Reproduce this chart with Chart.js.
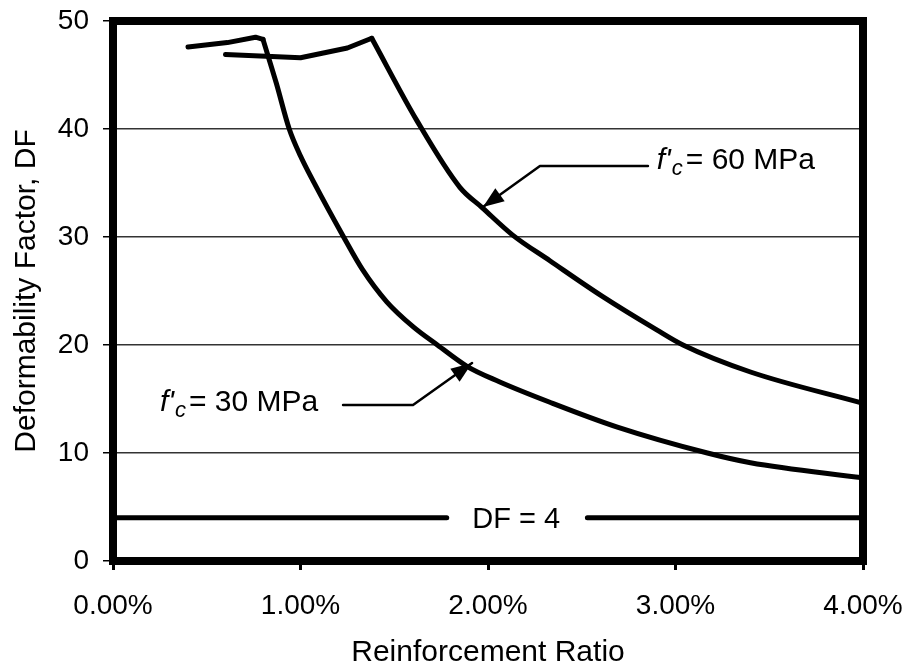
<!DOCTYPE html>
<html>
<head>
<meta charset="utf-8">
<script src="https://cdn.jsdelivr.net/npm/chart.js@4.4.1/dist/chart.umd.min.js"></script>
<style>
	body { margin: 0; background: #fff; }
	#wrap { width: 910px; height: 671px; position: relative; }
</style>
</head>
<body>
<div id="wrap"><canvas id="dfChart"></canvas></div>
<script>
// data (x = reinforcement ratio in %, y = DF)
const ratio30 = [0.40, 0.61, 0.76, 0.80, 0.87, 0.94, 1.00, 1.07, 1.23, 1.33, 1.46, 1.60, 1.73, 1.89, 2.06, 2.33, 2.69, 3.17, 3.40, 4.00]
const df30 = [47.6, 48.0, 48.5, 48.3, 44.3, 40.0, 37.5, 35.1, 30.0, 27.0, 24.0, 21.7, 20.0, 18.0, 16.6, 14.7, 12.4, 10.0, 9.1, 7.7]
const peak30 = 3 // index where the smooth falling branch starts

const ratio60 = [0.60, 1.00, 1.25, 1.38, 1.62, 1.85, 1.97, 2.13, 2.33, 2.61, 2.90, 3.04, 3.40, 4.00]
const df60 = [46.9, 46.6, 47.5, 48.4, 40.8, 34.6, 32.7, 30.2, 27.8, 24.5, 21.4, 20.0, 17.5, 14.6]
const peak60 = 3

// DF = 4 limit line, broken where its label sits
const limitX = [0, 1.78, 2.15, 2.53, 4.00]
const limitY = [4, 4, null, 4, 4]

// leader lines for the two labels (last point is the arrow tip)
const leader60X = [2.853, 2.277, 1.973]
const leader60Y = [36.57, 36.57, 32.78]
const leader30X = [1.227, 1.60, 1.915]
const leader30Y = [14.44, 14.44, 18.33]

const labels = [
	{ x: 2.90, y: 37.1, val: '60 MPa' },
	{ x: 0.25, y: 14.7, val: '30 MPa' },
]
const limitLabel = { x: 2.15, y: 4, text: 'DF = 4' }

const xTicks = [0, 1, 2, 3, 4]
const yTicks = [0, 10, 20, 30, 40, 50]

function pts(xs, ys) {
	return xs.map((x, i) => ({ x: x, y: ys[i] }))
}

const FONT = '"Liberation Sans", Arial, sans-serif'

const framePlugin = {
	id: 'frame',
	afterDatasetsDraw(chart) {
		const { ctx, chartArea: a, scales } = chart
		ctx.save()
		ctx.strokeStyle = '#000'
		ctx.lineWidth = 8
		ctx.strokeRect(a.left, a.top, a.right - a.left, a.bottom - a.top)

		// arrow heads
		const heads = [[leader60X, leader60Y], [leader30X, leader30Y]]
		heads.forEach(([xs, ys]) => {
			const n = xs.length
			const x1 = scales.x.getPixelForValue(xs[n - 2]), y1 = scales.y.getPixelForValue(ys[n - 2])
			const x2 = scales.x.getPixelForValue(xs[n - 1]), y2 = scales.y.getPixelForValue(ys[n - 1])
			const ang = Math.atan2(y2 - y1, x2 - x1)
			const len = 21, w = 8
			ctx.beginPath()
			ctx.moveTo(x2, y2)
			ctx.lineTo(x2 - len * Math.cos(ang) + w * Math.sin(ang), y2 - len * Math.sin(ang) - w * Math.cos(ang))
			ctx.lineTo(x2 - len * Math.cos(ang) - w * Math.sin(ang), y2 - len * Math.sin(ang) + w * Math.cos(ang))
			ctx.closePath()
			ctx.fillStyle = '#000'
			ctx.fill()
		})

		// f'c labels
		ctx.fillStyle = '#000'
		ctx.textBaseline = 'middle'
		ctx.textAlign = 'left'
		labels.forEach(l => {
			let px = scales.x.getPixelForValue(l.x)
			const py = scales.y.getPixelForValue(l.y)
			ctx.font = 'italic 30px ' + FONT
			ctx.fillText("f'", px, py)
			px += ctx.measureText("f'").width + 1
			ctx.font = 'italic 22px ' + FONT
			ctx.fillText('c', px, py + 9)
			px += ctx.measureText('c').width + 3
			ctx.font = '30px ' + FONT
			ctx.fillText('= ' + l.val, px, py)
		})

		ctx.textAlign = 'center'
		ctx.font = '29px ' + FONT
		ctx.fillText(limitLabel.text, scales.x.getPixelForValue(limitLabel.x), scales.y.getPixelForValue(limitLabel.y) + 2)
		ctx.restore()
	},
}

// flat top part drawn straight, falling branch drawn smooth
function curveSets(xs, ys, k) {
	return [
		{ data: pts(xs.slice(0, k + 1), ys.slice(0, k + 1)), borderColor: '#000', borderWidth: 5 },
		{ data: pts(xs.slice(k), ys.slice(k)), borderColor: '#000', borderWidth: 5, cubicInterpolationMode: 'monotone' },
	]
}

const ctx = document.getElementById('dfChart').getContext('2d')
const dfChart = new Chart(ctx, {
	type: 'line',
	data: {
		datasets: [
			...curveSets(ratio30, df30, peak30),
			...curveSets(ratio60, df60, peak60),
			{ data: pts(limitX, limitY), borderColor: '#000', borderWidth: 5, spanGaps: false },
			{ data: pts(leader60X, leader60Y), borderColor: '#000', borderWidth: 2.5 },
			{ data: pts(leader30X, leader30Y), borderColor: '#000', borderWidth: 2.5 },
		],
	},
	options: {
		responsive: true,
		maintainAspectRatio: false,
		animation: false,
		layout: { padding: { top: 21, right: 47, left: 0, bottom: 0 } },
		elements: {
			point: { radius: 0 },
			line: { tension: 0, borderCapStyle: 'round', borderJoinStyle: 'round', fill: false },
		},
		plugins: { legend: { display: false }, tooltip: { enabled: false } },
		scales: {
			x: {
				type: 'linear',
				min: 0,
				max: 4,
				afterFit: s => { s.height = 110; s.paddingLeft = 0; s.paddingRight = 0 },
				afterBuildTicks: s => { s.ticks = xTicks.map(v => ({ value: v })) },
				border: { display: false },
				grid: { drawOnChartArea: false, drawTicks: true, tickLength: 9, tickWidth: 3, tickColor: '#000' },
				ticks: {
					color: '#000',
					padding: 19,
					font: { family: FONT, size: 28 },
					callback: v => v.toFixed(2) + '%',
				},
				title: {
					display: true,
					text: 'Reinforcement Ratio',
					color: '#000',
					font: { family: FONT, size: 30 },
					padding: { top: 0, bottom: 0 },
				},
			},
			y: {
				min: 0,
				max: 50,
				afterFit: s => { s.width = 113; s.paddingTop = 0; s.paddingBottom = 0 },
				afterBuildTicks: s => { s.ticks = yTicks.map(v => ({ value: v })) },
				border: { display: false },
				grid: { color: '#333', lineWidth: 1.5, tickLength: 10, tickColor: '#000', tickWidth: 1.5 },
				ticks: {
					color: '#000',
					padding: 14,
					font: { family: FONT, size: 28 },
				},
				title: {
					display: true,
					text: 'Deformability Factor, DF',
					color: '#000',
					font: { family: FONT, size: 30 },
					padding: { top: 9, bottom: 0 },
				},
			},
		},
	},
	plugins: [framePlugin],
})
</script>
</body>
</html>
